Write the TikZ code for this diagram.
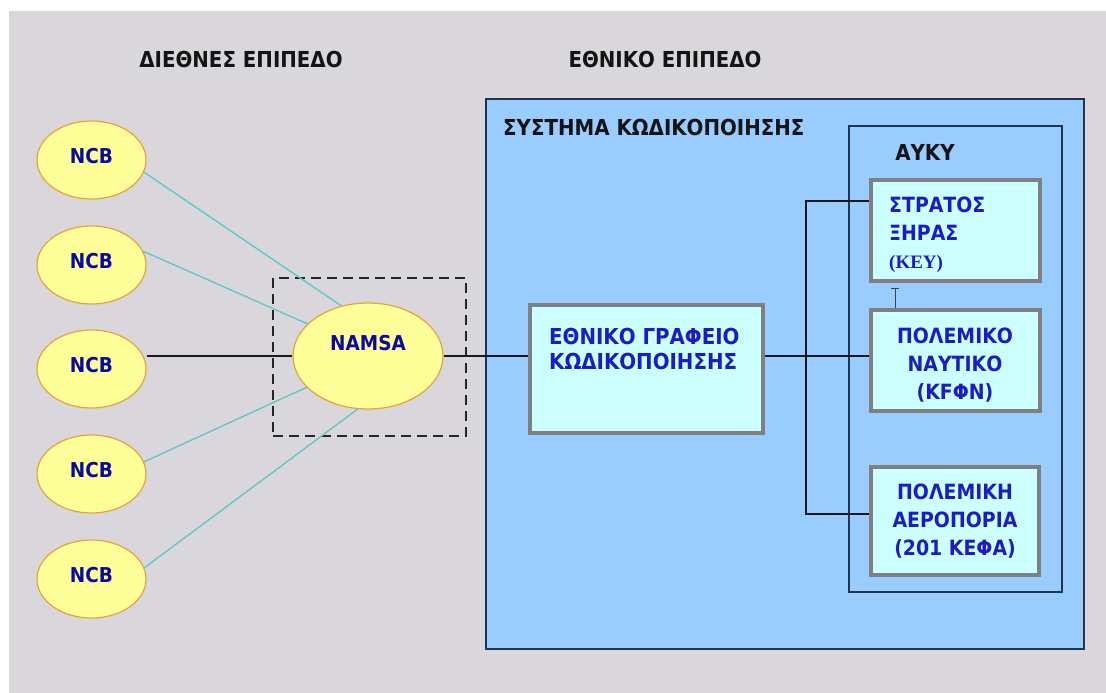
\documentclass[tikz,border=0pt]{standalone}
\usepackage{fontspec}
\setmainfont{DejaVu Sans Condensed}
\newfontfamily\keyfont{Liberation Serif}
\usetikzlibrary{shapes.geometric, arrows.meta}
\definecolor{bggrey}{HTML}{D9D7DB}
\definecolor{sysblue}{HTML}{99CCFF}
\definecolor{sysedge}{HTML}{1F3550}
\definecolor{lightcyan}{HTML}{CCFFFF}
\definecolor{boxedge}{HTML}{808080}
\definecolor{ncbfill}{HTML}{FFFF99}
\definecolor{ncbedge}{HTML}{E9A23B}
\definecolor{ncbtext}{HTML}{0A0AA0}
\definecolor{boxtext}{HTML}{1C1CC4}
\definecolor{tealline}{HTML}{5EC6C6}

\begin{document}
\begin{tikzpicture}[x=1pt, y=-1pt,
  head/.style={inner sep=0pt, text=black!92, font=\bfseries\fontsize{22}{26}\selectfont},
  ncb/.style={ellipse, draw=ncbedge, line width=1.2pt, fill=ncbfill, inner sep=0pt,
    minimum width=109pt, minimum height=78pt, text depth=8pt, text=ncbtext,
    font=\bfseries\fontsize{20.5}{24}\selectfont},
  lightbox/.style={rectangle, draw=boxedge, line width=4pt, fill=lightcyan, inner sep=0pt},
  boxlabel/.style={inner sep=0pt, text=boxtext, font=\bfseries\fontsize{21}{28}\selectfont},
  tealwire/.style={draw=tealline, line width=1.3pt},
  wire/.style={draw=black!90, line width=1.3pt}]

  % Page and grey background
  \useasboundingbox (0,0) rectangle (1106,693);
  \fill[bggrey] (9,11) rectangle (1106,693);

  % Level headings
  \node[head] (intl) at (241,59) {ΔΙΕΘΝΕΣ ΕΠΙΠΕΔΟ};
  \node[head] (natl) at (665,59) {ΕΘΝΙΚΟ ΕΠΙΠΕΔΟ};

  % Codification system and AYKY frame
  \node[draw=sysedge, line width=1.8pt, fill=sysblue, minimum width=598pt, minimum height=550pt] (sys) at (785,374) {};
  \node[head, anchor=west] (systitle) at (503,127) {ΣΥΣΤΗΜΑ ΚΩΔΙΚΟΠΟΙΗΣΗΣ};
  \node[draw=sysedge, line width=1.5pt, minimum width=213pt, minimum height=466pt] (ayky) at (955.5,359) {};
  \node[head] (aykytitle) at (925,152) {ΑΥΚΥ};

  % Dashed frame round NAMSA
  \node[draw=black!85, line width=2pt, dash pattern=on 10pt off 6pt, minimum width=193pt, minimum height=158pt] (namsazone) at (369.5,357) {};

  % NCB ellipses and NAMSA
  \foreach \i/\y in {1/160,2/265,3/369,4/474,5/579}
    \node[ncb] (ncb\i) at (91.5,\y) {NCB};
  \node[ncb, minimum width=150pt, minimum height=106pt, text depth=26pt] (namsa) at (368,356) {NAMSA};

  % National boxes
  \node[lightbox, minimum width=233pt, minimum height=128pt] (natoff) at (646.5,369) {};
  \node[lightbox, minimum width=169pt, minimum height=101pt] (army) at (955.5,230.5) {};
  \node[lightbox, minimum width=169pt, minimum height=101pt] (navy) at (955.5,360.5) {};
  \node[lightbox, minimum width=168pt, minimum height=108pt] (air) at (955,521) {};

  \node[boxlabel, anchor=west, align=left, font=\bfseries\fontsize{22}{25}\selectfont] (natofftext) at (549,348.5) {ΕΘΝΙΚΟ ΓΡΑΦΕΙΟ\\ΚΩΔΙΚΟΠΟΙΗΣΗΣ};
  \node[boxlabel, anchor=west, align=left] (armytext) at (889,234.5) {ΣΤΡΑΤΟΣ\\ΞΗΡΑΣ\\{\keyfont\fontsize{19}{26}\selectfont(ΚΕΥ)}};
  \node[boxlabel, align=center] (navytext) at (955,365.5) {ΠΟΛΕΜΙΚΟ\\ΝΑΥΤΙΚΟ\\(ΚFΦΝ)};
  \node[boxlabel, align=center] (airtext) at (955,521) {ΠΟΛΕΜΙΚΗ\\ΑΕΡΟΠΟΡΙΑ\\(201 ΚΕΦΑ)};

  % NCB links to NAMSA
  \draw[tealwire] (ncb1.347) -- (namsa.118);
  \draw[tealwire] (ncb2.15) -- (namsa.152);
  \draw[tealwire] (ncb4.13) -- (namsa.207);
  \draw[tealwire] (ncb5.12) -- (namsa.259);
  \draw[wire] (ncb3.east |- namsa.west) -- (namsa.west);

  % National links
  \draw[wire] (namsa.east) -- (natoff.west |- namsa.east);
  \draw[wire] (natoff.east |- namsa.east) -- (navy.west |- namsa.east);
  \coordinate (bustop) at (806,201);
  \coordinate (busbot) at (806,514);
  \draw[wire] (army.west |- bustop) -- (bustop) -- (busbot) -- (air.west |- busbot);
  \draw[draw=black!75, line width=1pt, -{Bar[width=8pt]}] ([xshift=-60.5pt]navy.north) -- ([xshift=-60.5pt, yshift=-5pt]army.south);

\end{tikzpicture}
\end{document}
